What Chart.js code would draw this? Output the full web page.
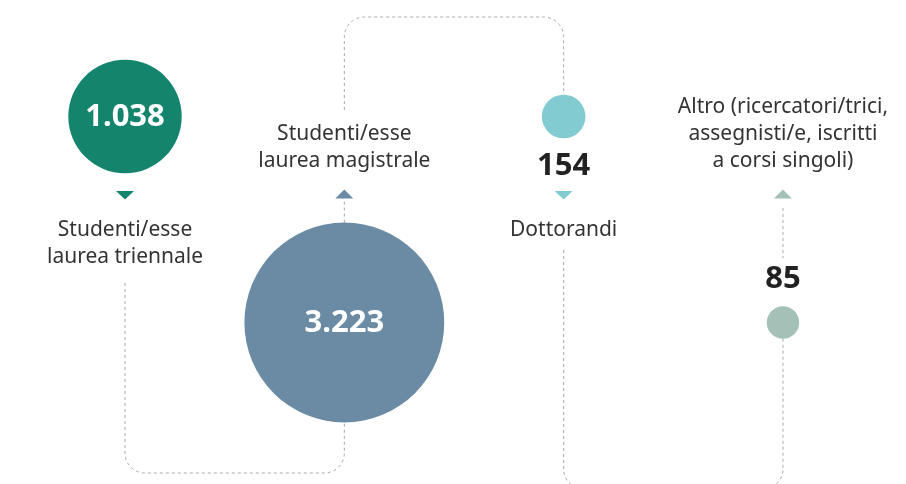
<!DOCTYPE html>
<html><head><meta charset="utf-8">
<script src="https://cdn.jsdelivr.net/npm/chart.js@4/dist/chart.umd.min.js"></script>
<style>html,body{margin:0;padding:0;background:#fff;overflow:hidden}</style>
</head><body>
<canvas id="c" width="906" height="484"></canvas>
<script>
// ---- data ----
const categories = [
  ["Studenti/esse", "laurea triennale"],
  ["Studenti/esse", "laurea magistrale"],
  ["Dottorandi"],
  ["Altro (ricercatori/trici,", "assegnisti/e, iscritti", "a corsi singoli)"]
];
const values = [1038, 3223, 154, 85];
const valueLabels = ["1.038", "3.223", "154", "85"];

// ---- styles ----
const colors = ["#15846c", "#6a8ba3", "#82cbd1", "#a4c1b7"];
const FONT = "'Noto Sans', sans-serif";
const K = 1.76; // bubble radius per sqrt(value)

const points = values.map((v, i) => ({ x: i, y: i % 2 === 0 ? 1 : 0, r: K * Math.sqrt(v) }));

const infographic = {
  id: 'infographic',
  beforeDatasetsDraw(chart) {
    const ctx = chart.ctx;
    const els = chart.getDatasetMeta(0).data;
    const P = els.map(e => ({ x: e.x, y: e.y, r: e.options.radius }));
    ctx.save();
    ctx.strokeStyle = '#aaaaaa';
    ctx.lineWidth = 1;
    ctx.setLineDash([3, 3]);
    const R = 20;
    // A: triennale label -> bottom -> magistrale circle
    ctx.beginPath();
    ctx.moveTo(P[0].x, 283);
    ctx.arcTo(P[0].x, 473, P[0].x + R, 473, R);
    ctx.arcTo(P[1].x, 473, P[1].x, 473 - R, R);
    ctx.lineTo(P[1].x, P[1].y + P[1].r);
    ctx.stroke();
    // B: magistrale circle -> triangle
    ctx.beginPath();
    ctx.moveTo(P[1].x, P[1].y - P[1].r);
    ctx.lineTo(P[1].x, 199);
    ctx.stroke();
    // C: magistrale label -> top -> dottorandi circle
    ctx.beginPath();
    ctx.moveTo(P[1].x, 110);
    ctx.arcTo(P[1].x, 17, P[1].x + R, 17, R);
    ctx.arcTo(P[2].x, 17, P[2].x, 17 + R, R);
    ctx.lineTo(P[2].x, P[2].y - P[2].r);
    ctx.stroke();
    // D: dottorandi label -> bottom -> altro circle
    ctx.beginPath();
    ctx.moveTo(P[2].x, 250);
    ctx.arcTo(P[2].x, 489, P[2].x + R, 489, R);
    ctx.arcTo(P[3].x, 489, P[3].x, 489 - R, R);
    ctx.lineTo(P[3].x, P[3].y + P[3].r);
    ctx.stroke();
    // E: altro triangle -> value
    ctx.beginPath();
    ctx.moveTo(P[3].x, 208);
    ctx.lineTo(P[3].x, 258);
    ctx.stroke();
    ctx.restore();
  },
  afterDatasetsDraw(chart) {
    const ctx = chart.ctx;
    const els = chart.getDatasetMeta(0).data;
    ctx.save();
    ctx.textAlign = 'center';
    els.forEach((e, i) => {
      const x = e.x, y = e.y, r = e.options.radius;
      const top = i % 2 === 0;
      // value
      ctx.font = "bold 31px " + FONT;
      ctx.textBaseline = 'middle';
      if (r > 40) {
        ctx.fillStyle = '#ffffff';
        ctx.fillText(valueLabels[i], x, y + 1);
      } else {
        ctx.fillStyle = '#222222';
        ctx.fillText(valueLabels[i], x, top ? y + r + 28 : y - r - 27);
      }
      // triangle
      ctx.fillStyle = colors[i];
      ctx.beginPath();
      if (top) {
        ctx.moveTo(x - 9, 191); ctx.lineTo(x + 9, 191); ctx.lineTo(x, 199.5);
      } else {
        ctx.moveTo(x - 9, 198.5); ctx.lineTo(x + 9, 198.5); ctx.lineTo(x, 189.5);
      }
      ctx.closePath();
      ctx.fill();
      // label
      ctx.font = "21px " + FONT;
      ctx.fillStyle = '#333333';
      ctx.textBaseline = 'alphabetic';
      const lines = categories[i];
      lines.forEach((t, j) => {
        const by = top ? 236 + j * 27 : 167 - (lines.length - 1 - j) * 27;
        ctx.fillText(t, x, by);
      });
    });
    ctx.restore();
  }
};

new Chart(document.getElementById('c'), {
  type: 'bubble',
  data: {
    labels: categories.map(c => c.join(' ')),
    datasets: [{
      data: points,
      backgroundColor: colors,
      borderWidth: 0,
      hoverBorderWidth: 0,
      clip: false
    }]
  },
  options: {
    responsive: false,
    animation: false,
    events: [],
    layout: { padding: 0, autoPadding: false },
    plugins: { legend: { display: false }, tooltip: { enabled: false } },
    scales: {
      x: { type: 'linear', min: -0.57, max: 3.561, display: false },
      y: { type: 'linear', min: -0.784, max: 1.5655, display: false }
    }
  },
  plugins: [infographic]
});
</script>
</body></html>
